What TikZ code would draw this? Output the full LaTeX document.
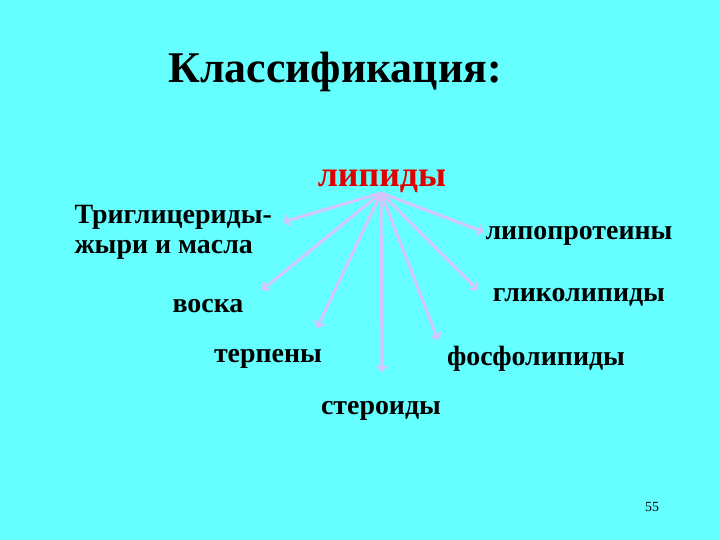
\documentclass[tikz,border=0pt]{standalone}
\usepackage{fontspec}
\setmainfont{Liberation Serif}
\usepackage{tikz}
\definecolor{fon}{HTML}{66FFFF}
\definecolor{luch}{HTML}{D4C4F8}
\definecolor{krasn}{HTML}{E00000}

\begin{document}
\begin{tikzpicture}[x=1bp,y=-1bp, every node/.style={font=\bfseries\fontsize{28}{30}\selectfont}]
		\fill[fon] (0,0) rectangle (720,540);
		\useasboundingbox (0,0) rectangle (720,540);
		%Заголовок
		\node[font=\bfseries\fontsize{44}{48}\selectfont] (titl) at (335,72) {Классификация:};
		\node[text=krasn, font=\bfseries\fontsize{36}{40}\selectfont] (lip) at (382,181) {липиды};
		\node[align=left, anchor=west] (trig) at (71,232) {Триглицериды-\\жыри и масла};
		\node (lipo) at (579,236) {липопротеины};
		\node (glik) at (579,297) {гликолипиды};
		\node (vosk) at (208,306) {воска};
		\node (terp) at (268,359) {терпены};
		\node (fosf) at (536,359) {фосфолипиды};
		\node (ster) at (381,411) {стероиды};
		\node[font=\fontsize{14}{16}\selectfont] (nom) at (652,507) {55};
		%Лучи
		\coordinate (c) at (381,193);
		\coordinate (e1) at (283,222);
		\coordinate (e2) at (262,290);
		\coordinate (e3) at (317,328);
		\coordinate (e4) at (382,372);
		\coordinate (e5) at (438,340);
		\coordinate (e6) at (478,290);
		\coordinate (e7) at (484,232);
		\foreach \e in {e1,e2,e3,e4,e5,e6,e7}
			\draw [luch, line width=3bp, ->] (c) -- (\e);
	\end{tikzpicture}
\end{document}
